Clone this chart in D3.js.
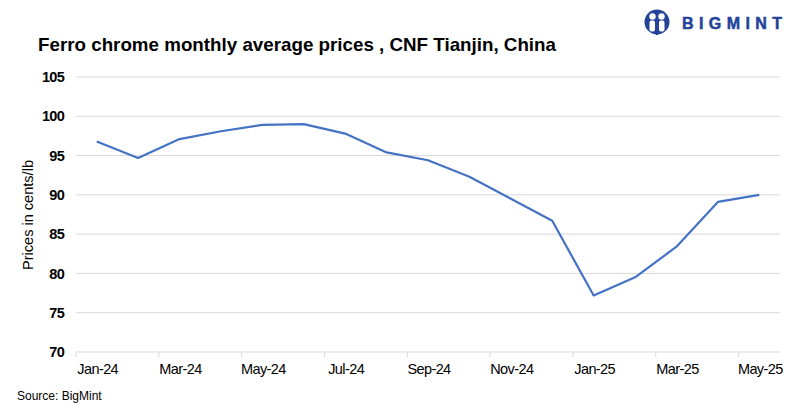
<!DOCTYPE html>
<html>
<head>
<meta charset="utf-8">
<script src="https://cdn.jsdelivr.net/npm/d3@7"></script>
<style>
  body { margin: 0; background: #fff; }
  svg text { font-family: "Liberation Sans", Arial, sans-serif; }
</style>
</head>
<body>
<div id="chart"></div>
<script>
// data
const months = ["Jan-24","Feb-24","Mar-24","Apr-24","May-24","Jun-24","Jul-24","Aug-24","Sep-24",
                "Oct-24","Nov-24","Dec-24","Jan-25","Feb-25","Mar-25","Apr-25","May-25"]
const prices = [96.8, 94.7, 97.1, 98.1, 98.9, 99.0, 97.8, 95.4, 94.4,
                92.3, 89.5, 86.7, 77.2, 79.5, 83.4, 89.1, 90.0]
const yTicks = [70, 75, 80, 85, 90, 95, 100, 105]

const width = 800, height = 410
const plotLeft = 76, plotRight = 780, plotTop = 77, plotBottom = 352

const svg = d3.select("#chart").append("svg")
    .attr("width", width)
    .attr("height", height)

// title
svg.append("text")
    .attr("x", 38).attr("y", 51)
    .attr("textLength", 518)
    .attr("lengthAdjust", "spacingAndGlyphs")
    .style("font-size", "19px")
    .style("font-weight", "bold")
    .style("fill", "#000")
    .text("Ferro chrome monthly average prices , CNF Tianjin, China")

// logo
const logo = svg.append("g").attr("transform", "translate(657, 22)")
logo.append("circle").attr("r", 12.5).attr("fill", "#23439a")
logo.append("circle").attr("cx", -4.5).attr("cy", -5.5).attr("r", 3.2).attr("fill", "#fff")
logo.append("circle").attr("cx", 4.5).attr("cy", -5.5).attr("r", 3.2).attr("fill", "#fff")
logo.append("rect").attr("x", -7.5).attr("y", -1.5).attr("width", 5.5).attr("height", 11).attr("rx", 2).attr("fill", "#fff")
logo.append("rect").attr("x", 2).attr("y", -1.5).attr("width", 5.5).attr("height", 11).attr("rx", 2).attr("fill", "#fff")
logo.append("rect").attr("x", -1).attr("y", -3).attr("width", 2).attr("height", 16).attr("fill", "#23439a")
svg.append("text")
    .attr("x", 682).attr("y", 29)
    .attr("textLength", 100)
    .attr("lengthAdjust", "spacing")
    .style("font-size", "16px")
    .style("font-weight", "bold")
    .style("fill", "#23439a")
    .style("stroke", "#23439a")
    .style("stroke-width", 0.5)
    .text("BIGMINT")

// scales
const x = d3.scaleBand().domain(months).range([plotLeft, plotRight])
const y = d3.scaleLinear().domain([70, 105]).range([plotBottom, plotTop])

// grid
svg.append("g").selectAll("line")
    .data(yTicks.filter(d => d != 70)).enter()
    .append("line")
    .attr("x1", plotLeft).attr("x2", plotRight)
    .attr("y1", d => y(d)).attr("y2", d => y(d))
    .style("stroke", "#d9d9d9")
    .style("stroke-width", 1)

// y axis labels
const yAxis = svg.append("g")
    .attr("transform", `translate(${plotLeft}, 0)`)
    .call(d3.axisLeft(y).tickValues(yTicks).tickSize(0).tickPadding(12))
yAxis.select(".domain").remove()
yAxis.selectAll("text")
    .style("font-size", "14.5px")
    .style("font-weight", "bold")
    .style("letter-spacing", "-0.7px")
    .style("fill", "#000")

// x axis, ticks every second band edge
svg.append("line")
    .attr("x1", plotLeft).attr("x2", plotRight)
    .attr("y1", plotBottom).attr("y2", plotBottom)
    .style("stroke", "#d9d9d9")
svg.append("g").selectAll("line")
    .data(months.filter((d, i) => i % 2 == 0)).enter()
    .append("line")
    .attr("x1", d => x(d)).attr("x2", d => x(d))
    .attr("y1", plotBottom).attr("y2", plotBottom + 5)
    .style("stroke", "#d9d9d9")
svg.append("g").selectAll("text")
    .data(months.filter((d, i) => i % 2 == 0)).enter()
    .append("text")
    .attr("x", d => x(d) + x.bandwidth() / 2 + 1)
    .attr("y", 374)
    .attr("text-anchor", "middle")
    .style("font-size", "14.5px")
    .style("letter-spacing", "-0.6px")
    .style("fill", "#000")
    .text(d => d)

// axis title
svg.append("text")
    .attr("transform", "translate(33, 215) rotate(-90)")
    .attr("text-anchor", "middle")
    .attr("textLength", 110)
    .attr("lengthAdjust", "spacingAndGlyphs")
    .style("font-size", "14.5px")
    .style("fill", "#000")
    .text("Prices in cents/lb")

// line
const line = d3.line()
    .x((d, i) => x(months[i]) + x.bandwidth() / 2)
    .y(d => y(d))
svg.append("path")
    .datum(prices)
    .attr("d", line)
    .style("fill", "none")
    .style("stroke", "#4472c4")
    .style("stroke-width", 2.2)
    .style("stroke-linejoin", "round")

// source
svg.append("text")
    .attr("x", 17).attr("y", 400)
    .style("font-size", "12px")
    .style("fill", "#000")
    .text("Source: BigMint")
</script>
</body>
</html>
